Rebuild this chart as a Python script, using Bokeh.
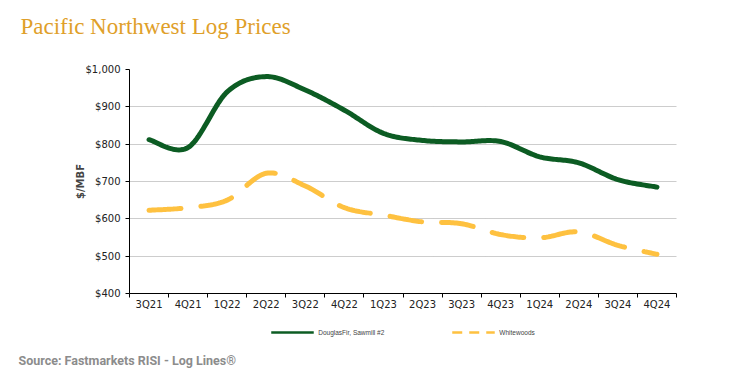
import numpy as np
from bokeh.plotting import figure
from bokeh.layouts import column
from bokeh.models import FixedTicker, Legend, LegendItem, Range1d, NumeralTickFormatter, Title
from bokeh.embed import file_html
from bokeh.resources import INLINE

# ---- data ----
quarters = ["3Q21", "4Q21", "1Q22", "2Q22", "3Q22", "4Q22", "1Q23",
            "2Q23", "3Q23", "4Q23", "1Q24", "2Q24", "3Q24", "4Q24"]
douglas_fir = [812, 791, 940, 981, 945, 891, 829, 810, 806, 807, 766, 750, 705, 685]
whitewoods = [623, 630, 650, 722, 688, 630, 610, 592, 587, 558, 549, 565, 529, 505]
y_ticks = [400, 500, 600, 700, 800, 900, 1000]

title_text = "Pacific Northwest Log Prices"
source_text = "Source: Fastmarkets RISI - Log Lines\u00ae"
y_label = "$/MBF"
series_names = ["DouglasFir, Sawmill #2", "Whitewoods"]

GREEN = "#0c5c23"
YELLOW = "#fec140"
GOLD = "#dfa02a"
W = 736


def smooth(vals, n=24):
    """Excel-like smoothed line (Catmull-Rom Bezier through the data points)."""
    xs0 = np.arange(1, len(vals) + 1, dtype=float)
    ys0 = np.asarray(vals, dtype=float)
    px = np.concatenate([[xs0[0]], xs0, [xs0[-1]]])
    py = np.concatenate([[ys0[0]], ys0, [ys0[-1]]])
    outx, outy = [], []
    t = np.linspace(0, 1, n)
    for i in range(1, len(xs0)):
        p0 = np.array([px[i], py[i]])
        p3 = np.array([px[i + 1], py[i + 1]])
        c1 = p0 + (p3 - np.array([px[i - 1], py[i - 1]])) / 6.0
        c2 = p3 - (np.array([px[i + 2], py[i + 2]]) - p0) / 6.0
        tt = t if i == 1 else t[1:]
        b = ((1 - tt) ** 3)[:, None] * p0 + (3 * (1 - tt) ** 2 * tt)[:, None] * c1 \
            + (3 * (1 - tt) * tt ** 2)[:, None] * c2 + (tt ** 3)[:, None] * p3
        outx.extend(b[:, 0]); outy.extend(b[:, 1])
    return outx, outy


# ---- main chart ----
MAIN_H = 318
p = figure(width=W, height=MAIN_H, output_backend="svg", toolbar_location=None,
           x_range=Range1d(0.5, len(quarters) + 0.5), y_range=Range1d(400, 1000),
           min_border_left=129, min_border_right=60, min_border_top=69, min_border_bottom=25)
p.outline_line_color = None
p.title.visible = False

fx, fy = smooth(douglas_fir)
wx, wy = smooth(whitewoods)
p.line(wx, wy, line_color=YELLOW, line_width=5, line_dash="32 20", line_cap="round")
p.line(fx, fy, line_color=GREEN, line_width=5, line_cap="round", line_join="round")

p.xaxis.ticker = FixedTicker(ticks=list(range(1, len(quarters) + 1)),
                             minor_ticks=[i + 0.5 for i in range(len(quarters) + 1)])
p.xaxis.major_label_overrides = {i + 1: q for i, q in enumerate(quarters)}
p.xaxis.major_tick_out = 0
p.xaxis.major_tick_in = 0
p.xaxis.minor_tick_out = 4
p.xaxis.minor_tick_in = 0
p.xaxis.minor_tick_line_color = "#000000"
p.xaxis.major_label_standoff = 1
p.xaxis.axis_line_color = "#000000"

p.yaxis.ticker = FixedTicker(ticks=y_ticks)
p.yaxis.formatter = NumeralTickFormatter(format="$0,0")
p.yaxis.major_tick_out = 4
p.yaxis.major_tick_in = 0
p.yaxis.minor_tick_line_color = None
p.yaxis.axis_label = y_label
p.yaxis.axis_label_text_font = "DejaVu Sans"
p.yaxis.axis_label_text_font_style = "bold"
p.yaxis.axis_label_text_font_size = "10px"
p.yaxis.axis_label_standoff = -3
p.yaxis.axis_line_color = "#000000"

for ax in (p.xaxis, p.yaxis):
    ax.major_label_text_font = "DejaVu Sans"
    ax.major_label_text_font_size = "10px"
    ax.major_label_text_color = "#222222"

p.xgrid.visible = False
p.ygrid.grid_line_color = "#9a9a9a"
p.ygrid.grid_line_dash = "1 1"
p.ygrid.grid_line_width = 1

# spacer + title above the plot area
p.add_layout(Title(text=" ", text_font_size="1px", standoff=23), "above")
p.add_layout(Title(text=title_text, align="left", offset=-109, standoff=10,
                   text_font="Liberation Serif", text_font_size="23px", text_color=GOLD,
                   text_font_style="normal"), "above")

# ---- legend + source strip ----
BOT_H = 62
bot = figure(width=W, height=BOT_H, output_backend="svg", toolbar_location=None,
             x_range=Range1d(0, 1), y_range=Range1d(0, 1),
             x_axis_type=None, y_axis_type=None,
             min_border_left=129, min_border_right=60, min_border_top=0, min_border_bottom=0)
bot.outline_line_color = None
bot.grid.visible = False
bot.title.visible = False
lg = bot.line([np.nan], [np.nan], line_color=GREEN, line_width=2.5)
lw = bot.line([np.nan], [np.nan], line_color=YELLOW, line_width=2.5, line_dash="10 7")
legend = Legend(items=[LegendItem(label=series_names[0], renderers=[lg]),
                       LegendItem(label=series_names[1], renderers=[lw])],
                location="top_center", orientation="horizontal",
                glyph_width=43, glyph_height=8, label_height=8,
                label_text_font="Liberation Sans", label_text_font_size="6.5px",
                label_standoff=5, spacing=67, padding=0, margin=10,
                border_line_color=None, background_fill_alpha=0)
bot.add_layout(legend)
bot.add_layout(Title(text=source_text, align="left", offset=-111, standoff=26,
                     text_font="Roboto", text_font_size="12.5px", text_color="#8c8c8c",
                     text_font_style="bold"), "below")

layout = column(p, bot, spacing=0)
open("out.html", "w").write(file_html(layout, INLINE))
